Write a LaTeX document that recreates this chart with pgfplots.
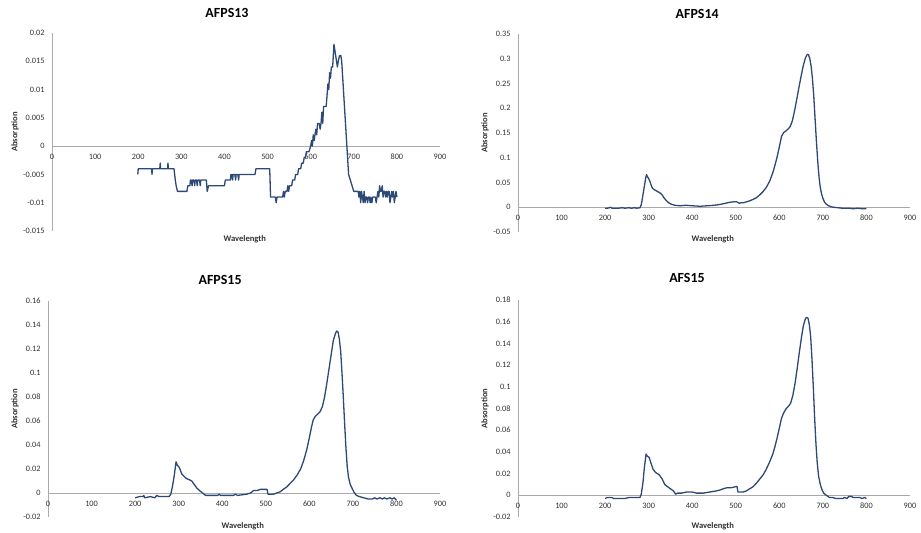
\documentclass[border=0pt]{standalone}
\usepackage{fontspec}
\setmainfont{Carlito}
\usepackage{pgfplots}
\pgfplotsset{compat=1.18}
\definecolor{specline}{RGB}{44,72,117}
\definecolor{axgray}{RGB}{170,170,170}
\definecolor{ticktext}{RGB}{50,50,50}
\tikzset{
  ttl/.style={font=\bfseries\fontsize{14}{16}\selectfont, anchor=center, inner sep=0pt},
  lbl/.style={font=\bfseries\fontsize{8.6}{9}\selectfont, text=ticktext, anchor=center, inner sep=0pt},
  zlbl/.style={font=\fontsize{8.3}{9}\selectfont, text=ticktext, anchor=north, yshift=-4.5bp},
}
\pgfplotsset{
  spec/.style={
    scale only axis,
    anchor=south west,
    axis x line=middle,
    axis y line=left,
    axis line style={-, draw=axgray, line width=0.9bp},
    every inner x axis line/.append style={-},
    every outer y axis line/.append style={-},
    xmin=0, xmax=900,
    xtick={0,100,...,900},
    major tick length=0pt,
    minor tick num=0,
    scaled y ticks=false,
    scaled x ticks=false,
    /pgf/number format/assume math mode=true,
    yticklabel style={/pgf/number format/fixed, /pgf/number format/precision=3,
      font=\fontsize{8.3}{9}\selectfont, text=ticktext, xshift=-4bp},
    xticklabel style={font=\fontsize{8.3}{9}\selectfont, text=ticktext, yshift=-4.5bp},
    clip=false,
  },
  specplot/.style={specline, line width=1.3bp, line join=round, no marks},
}
\begin{document}
\begin{tikzpicture}
\path[use as bounding box] (0,0) rectangle (921bp,533bp);
% ---------- AFPS13 ----------
\begin{axis}[spec, at={(52bp,302bp)}, width=388bp, height=198bp,
  ymin=-0.015, ymax=0.02, ytick={-0.015,-0.01,-0.005,0,0.005,0.01,0.015,0.02}]
\addplot[specplot] coordinates {
(199,-0.005)(200,-0.004)(231,-0.004)(232,-0.005)(233,-0.004)(250,-0.004)(251,-0.003)(252,-0.004)
(268,-0.004)(269,-0.003)(270,-0.004)(283,-0.004)(286,-0.006)(288,-0.007)(291,-0.008)(313,-0.008)
(315,-0.007)(320,-0.007)(321,-0.006)(323,-0.006)(325,-0.007)(326,-0.006)(329,-0.006)(331,-0.007)
(332,-0.006)(335,-0.006)(337,-0.007)(338,-0.006)(342,-0.006)(344,-0.007)(345,-0.006)(358,-0.006)
(360,-0.008)(363,-0.007)(400,-0.007)(402,-0.006)(414,-0.006)(415,-0.005)(417,-0.005)(419,-0.006)
(420,-0.005)(424,-0.005)(426,-0.006)(427,-0.005)(431,-0.005)(433,-0.006)(434,-0.005)(471,-0.005)
(473,-0.004)(505,-0.004)(507,-0.009)
(518,-0.009)(520,-0.010)(522,-0.009)(535,-0.009)(537,-0.008)(539,-0.009)(541,-0.008)(545,-0.008)
(547,-0.007)(549,-0.008)(551,-0.007)(556,-0.007)(558,-0.006)(563,-0.006)(565,-0.005)(570,-0.005)
(572,-0.004)(577,-0.004)(579,-0.003)(583,-0.003)(585,-0.002)(588,-0.002)(590,-0.001)(596,-0.001)
(600,0.000)(602,0.001)(604,0.000)(606,0.002)(608,0.001)(610,0.002)(612,0.003)(614,0.002)
(616,0.004)(620,0.004)(622,0.003)(624,0.004)(626,0.006)(628,0.004)(630,0.007)(636,0.007)
(638,0.009)(640,0.011)(642,0.010)(644,0.013)(646,0.012)(648,0.014)(651,0.014)(654,0.018)
(656,0.017)(658,0.016)(660,0.015)(662,0.014)(664,0.015)(667,0.016)(670,0.016)(672,0.015)
(676,0.010)(680,0.005)(684,0.000)(688,-0.005)(692,-0.006)(696,-0.007)(700,-0.008)(710,-0.008)
(712,-0.009)(714,-0.008)(716,-0.010)(718,-0.008)(720,-0.009)(722,-0.010)(724,-0.008)(726,-0.010)
(728,-0.009)(730,-0.009)(732,-0.010)(734,-0.009)(736,-0.009)(738,-0.010)(740,-0.009)(742,-0.010)
(744,-0.009)(750,-0.009)(752,-0.010)(754,-0.009)(756,-0.008)(758,-0.009)(760,-0.007)(762,-0.008)
(764,-0.008)(766,-0.007)(768,-0.009)(770,-0.008)(772,-0.008)(774,-0.009)(776,-0.008)(778,-0.009)
(780,-0.008)(782,-0.008)(784,-0.010)(786,-0.009)(788,-0.008)(790,-0.009)(792,-0.008)(794,-0.010)
(796,-0.009)(798,-0.008)(800,-0.009)
};
\node[ttl] at (axis description cs:0.451,1.101) {AFPS13};
\node[lbl] at (axis description cs:0.497,-0.04) {Wavelength};
\node[lbl, rotate=90] at (axis description cs:-0.0954,0.5) {Absorption};
\node[zlbl] at (axis cs:0,0) {0};
\end{axis}
% ---------- AFPS14 ----------
\begin{axis}[spec, at={(518bp,301bp)}, width=392bp, height=198bp,
  ymin=-0.05, ymax=0.35, ytick={-0.05,0,0.05,0.1,0.15,0.2,0.25,0.3,0.35}]
\addplot[specplot] coordinates {
(200,-0.002)(205,-0.002)(210,-0.001)(213,0.000)(216,-0.002)(230,-0.002)(240,-0.001)(245,-0.002)
(255,-0.001)(260,-0.002)(268,-0.001)(272,-0.002)(280,-0.001)(283,0.005)(286,0.020)(290,0.042)
(293,0.058)(295,0.066)(297,0.062)(300,0.058)(303,0.052)(306,0.044)(309,0.038)(314,0.035)
(320,0.032)(326,0.029)(331,0.025)(336,0.018)(341,0.013)(346,0.009)(352,0.006)(360,0.004)
(372,0.003)(385,0.004)(400,0.003)(418,0.002)(435,0.003)(450,0.004)(460,0.005)(471,0.007)
(486,0.010)(495,0.011)(502,0.011)(508,0.008)(512,0.009)(517,0.009)(525,0.011)(532,0.013)
(540,0.016)(547,0.019)(555,0.025)(563,0.032)(570,0.040)(578,0.053)(585,0.070)(590,0.085)
(595,0.102)(600,0.122)(605,0.143)(610,0.151)(615,0.154)(620,0.158)(625,0.163)(630,0.175)
(635,0.195)(640,0.218)(645,0.242)(650,0.265)(655,0.286)(660,0.302)(664,0.309)(667,0.308)
(670,0.300)(673,0.285)(676,0.260)(679,0.225)(682,0.180)(685,0.135)(688,0.095)(691,0.062)
(694,0.040)(697,0.027)(700,0.018)(704,0.010)(708,0.006)(713,0.003)(719,0.001)(725,0.000)
(735,-0.001)(745,-0.002)(760,-0.002)(770,-0.003)(780,-0.002)(790,-0.003)(800,-0.003)
};
\node[ttl] at (axis description cs:0.457,1.101) {AFPS14};
\node[lbl] at (axis description cs:0.497,-0.035) {Wavelength};
\node[lbl, rotate=90] at (axis description cs:-0.0842,0.5) {Absorption};
\node[zlbl] at (axis cs:0,0) {0};
\end{axis}
% ---------- AFPS15 ----------
\begin{axis}[spec, at={(48bp,16bp)}, width=392bp, height=216bp,
  ymin=-0.02, ymax=0.16, ytick={-0.02,0,0.02,0.04,0.06,0.08,0.1,0.12,0.14,0.16}]
\addplot[specplot] coordinates {
(200,-0.004)(210,-0.003)(218,-0.003)(220,-0.002)(222,-0.004)(235,-0.003)(245,-0.004)(250,-0.002)
(255,-0.003)(270,-0.003)(278,-0.003)(282,-0.001)(286,0.006)(290,0.015)(294,0.026)(297,0.023)
(300,0.022)(303,0.020)(307,0.016)(312,0.014)(318,0.012)(325,0.011)(330,0.010)(336,0.007)
(342,0.004)(348,0.002)(355,0.000)(362,-0.002)(372,-0.002)(390,-0.002)(393,-0.001)(396,-0.002)
(410,-0.002)(426,-0.002)(430,-0.001)(435,-0.002)(456,-0.001)(465,0.000)(472,0.002)(480,0.002)
(487,0.003)(495,0.003)(503,0.003)(505,-0.001)(518,-0.001)(525,0.000)(533,0.001)(540,0.003)
(548,0.005)(556,0.008)(564,0.011)(572,0.015)(580,0.020)(587,0.027)(594,0.036)(600,0.046)
(605,0.055)(609,0.061)(614,0.064)(620,0.066)(625,0.068)(630,0.072)(635,0.080)(640,0.091)
(645,0.103)(650,0.115)(655,0.127)(660,0.133)(663,0.135)(666,0.134)(669,0.128)(672,0.118)
(675,0.100)(678,0.080)(681,0.058)(684,0.038)(687,0.022)(690,0.013)(694,0.007)(698,0.004)
(702,0.001)(708,-0.002)(715,-0.003)(725,-0.004)(735,-0.005)(745,-0.005)(750,-0.004)(755,-0.005)
(762,-0.004)(768,-0.005)(772,-0.004)(778,-0.005)(785,-0.004)(790,-0.005)(795,-0.004)(800,-0.006)
};
\node[ttl] at (axis description cs:0.439,1.097) {AFPS15};
\node[lbl] at (axis description cs:0.497,-0.042) {Wavelength};
\node[lbl, rotate=90] at (axis description cs:-0.0842,0.5) {Absorption};
\node[zlbl] at (axis cs:0,0) {0};
\end{axis}
% ---------- AFS15 ----------
\begin{axis}[spec, at={(518bp,16bp)}, width=392bp, height=217bp,
  ymin=-0.02, ymax=0.18, ytick={-0.02,0,0.02,0.04,0.06,0.08,0.1,0.12,0.14,0.16,0.18}]
\addplot[specplot] coordinates {
(200,-0.003)(205,-0.002)(215,-0.002)(220,-0.003)(235,-0.003)(245,-0.003)(255,-0.002)(270,-0.002)
(280,-0.002)(283,0.001)(287,0.012)(290,0.025)(294,0.038)(297,0.036)(301,0.035)(305,0.030)
(310,0.024)(316,0.021)(324,0.019)(331,0.015)(337,0.010)(343,0.008)(350,0.006)(357,0.004)
(362,0.001)(366,0.002)(375,0.002)(387,0.003)(400,0.003)(410,0.002)(425,0.002)(440,0.003)
(455,0.004)(465,0.005)(471,0.006)(480,0.007)(490,0.007)(500,0.008)(503,0.008)(505,0.003)
(517,0.003)(524,0.004)(532,0.006)(540,0.008)(547,0.011)(555,0.015)(563,0.019)(570,0.024)
(578,0.031)(585,0.038)(590,0.045)(595,0.053)(600,0.062)(605,0.071)(610,0.076)(616,0.080)
(621,0.082)(626,0.085)(631,0.092)(636,0.103)(641,0.117)(646,0.132)(651,0.146)(655,0.156)
(660,0.163)(663,0.164)(666,0.163)(669,0.157)(672,0.146)(675,0.125)(678,0.100)(681,0.072)
(684,0.048)(687,0.030)(690,0.018)(694,0.010)(698,0.005)(702,0.002)(708,0.000)(715,-0.002)
(722,-0.002)(730,-0.003)(738,-0.003)(745,-0.003)(750,-0.002)(755,-0.003)(760,-0.001)(765,-0.001)
(770,-0.002)(778,-0.002)(785,-0.002)(790,-0.003)(795,-0.002)(800,-0.003)
};
\node[ttl] at (axis description cs:0.431,1.101) {AFS15};
\node[lbl] at (axis description cs:0.497,-0.042) {Wavelength};
\node[lbl, rotate=90] at (axis description cs:-0.0842,0.5) {Absorption};
\node[zlbl] at (axis cs:0,0) {0};
\end{axis}
\end{tikzpicture}
\end{document}
